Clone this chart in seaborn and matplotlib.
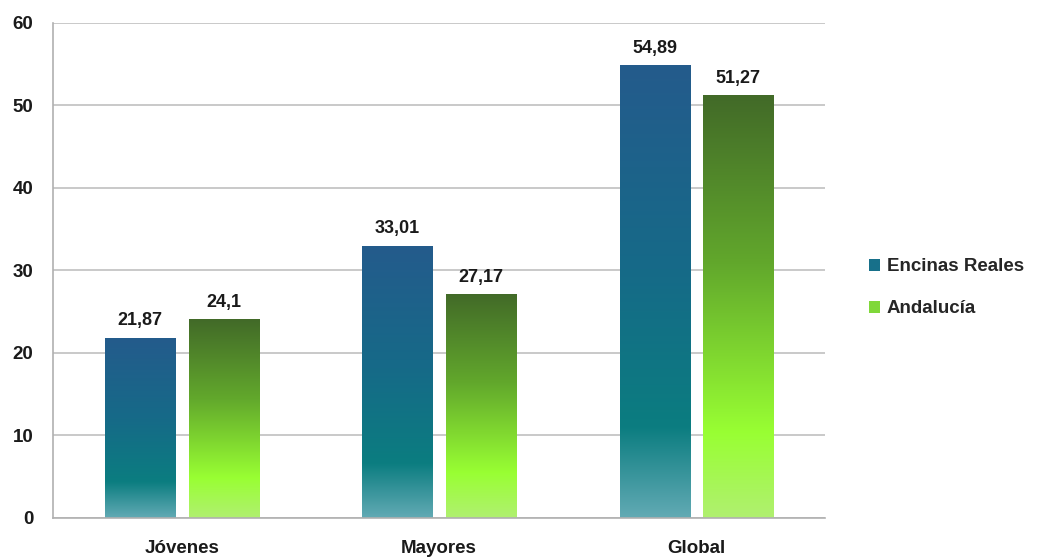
import numpy as np
import pandas as pd
import matplotlib
matplotlib.use("Agg")
import matplotlib.pyplot as plt
import seaborn as sns
from matplotlib.colors import LinearSegmentedColormap
from matplotlib.patches import Patch

categories = ["Jóvenes", "Mayores", "Global"]
series_names = ["Encinas Reales", "Andalucía"]
encinas = [21.87, 33.01, 54.89]
andalucia = [24.1, 27.17, 51.27]
label_text = [["21,87", "33,01", "54,89"], ["24,1", "27,17", "51,27"]]

df = pd.DataFrame({
    "categoria": categories * 2,
    "serie": [series_names[0]] * 3 + [series_names[1]] * 3,
    "valor": encinas + andalucia,
})

sns.set_style("white")
plt.rcParams["font.family"] = ["Liberation Sans", "DejaVu Sans"]
plt.rcParams["font.weight"] = "bold"

fig = plt.figure(figsize=(10.5, 5.58), dpi=100)
ax = fig.add_axes([0.0505, 0.0717, 0.7355, 0.8871])

palette = {series_names[0]: "#1d6f8a", series_names[1]: "#77c030"}
sns.barplot(data=df, x="categoria", y="valor", hue="serie", palette=palette,
            width=0.65, gap=0.163, ax=ax, legend=True, saturation=1)

# gradient colormaps (bottom -> top)
blue_cmap = LinearSegmentedColormap.from_list(
    "blue", [(0.0, "#62aab4"), (0.2, "#0b7d80"), (0.55, "#166a88"), (1.0, "#245b8c")])
green_cmap = LinearSegmentedColormap.from_list(
    "green", [(0.0, "#b0f070"), (0.2, "#99ff33"), (0.6, "#62a82c"), (1.0, "#426a28")])

bars = [p for p in ax.patches if p.get_height() > 0]
grad = np.linspace(0, 1, 256).reshape(-1, 1)
for bar in bars:
    x0, y0 = bar.get_x(), bar.get_y()
    w, h = bar.get_width(), bar.get_height()
    fc = bar.get_facecolor()
    cmap = blue_cmap if fc[2] > fc[1] * 0.8 else green_cmap
    bar.set_facecolor("none")
    bar.set_edgecolor("none")
    im = ax.imshow(grad, cmap=cmap, aspect="auto", origin="lower",
                   extent=[x0, x0 + w, y0, y0 + h], zorder=2)
    im.set_clip_path(bar)

for i, cont in enumerate(ax.containers):
    ax.bar_label(cont, labels=label_text[i], padding=6, fontsize=13,
                 fontweight="bold", color="#1a1a1a")

ax.set_xlim(-0.5, 2.5)
ax.set_ylim(0, 60)
ax.set_yticks(range(0, 61, 10))
ax.yaxis.grid(True, color="#c0c0c0", linewidth=1.2)
ax.set_axisbelow(True)
ax.set_xlabel("")
ax.set_ylabel("")
for s in ["top", "right"]:
    ax.spines[s].set_visible(False)
for s in ["left", "bottom"]:
    ax.spines[s].set_color("#b0b0b0")
    ax.spines[s].set_linewidth(1.2)
ax.tick_params(axis="both", length=0, labelsize=13.5, colors="#1a1a1a")
ax.tick_params(axis="y", pad=14)
ax.tick_params(axis="x", pad=16)
for t in ax.get_xticklabels() + ax.get_yticklabels():
    t.set_fontweight("bold")

handles = [Patch(facecolor="#17708a", edgecolor="none"),
           Patch(facecolor="#80d83a", edgecolor="none")]
ax.legend(handles, series_names, loc="center left", bbox_to_anchor=(1.035, 0.465),
          frameon=False, prop={"size": 13.5, "weight": "bold"},
          handlelength=0.6, handleheight=0.6, handletextpad=0.35, labelspacing=1.35)

fig.savefig("out.png", dpi=100)
